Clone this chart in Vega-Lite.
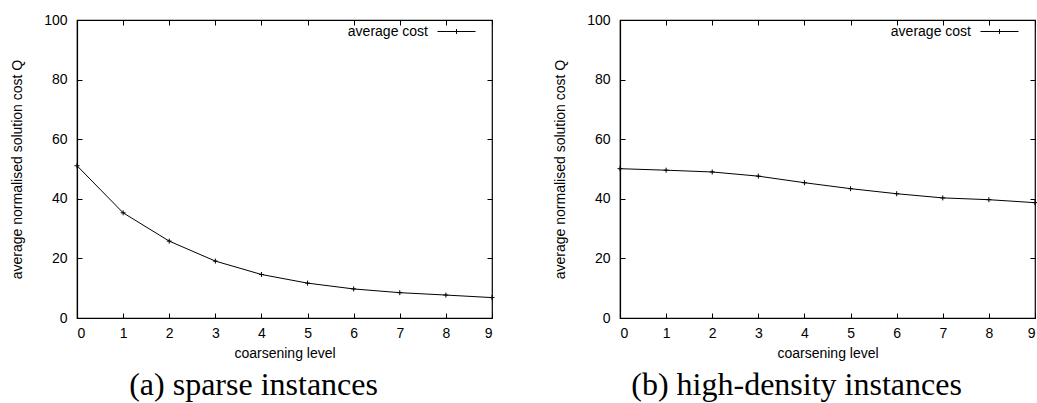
{
  "$schema": "https://vega.github.io/schema/vega-lite/v6.json",
  "padding": {"left": 10, "top": 11, "right": 0, "bottom": 0},
  "background": "white",
  "spacing": 55,
  "config": {
    "view": {"stroke": "black", "strokeWidth": 1.2},
    "axis": {
      "grid": false,
      "domainColor": "black",
      "domainWidth": 1.2,
      "tickColor": "black",
      "tickSize": -5,
      "labelFont": "Liberation Sans",
      "labelFontSize": 14,
      "labelColor": "black",
      "titleFont": "Liberation Sans",
      "titleFontSize": 14,
      "titleFontWeight": "normal",
      "titleColor": "black"
    },
    "legend": {"labelFont": "Liberation Sans", "labelFontSize": 14, "labelColor": "black"}
  },
  "resolve": {"scale": {"color": "independent"}, "legend": {"color": "independent"}},
  "hconcat": [
    {
      "width": 415,
      "height": 298,
      "title": {"text": "(a) sparse instances", "orient": "bottom", "anchor": "middle", "frame": "bounds", "font": "Liberation Serif", "fontSize": 32, "fontWeight": "normal", "color": "black", "offset": 10},
      "data": {"values": [
        {"level": 0, "cost": 51.1},
        {"level": 1, "cost": 35.3},
        {"level": 2, "cost": 25.8},
        {"level": 3, "cost": 19.1},
        {"level": 4, "cost": 14.6},
        {"level": 5, "cost": 11.7},
        {"level": 6, "cost": 9.75},
        {"level": 7, "cost": 8.5},
        {"level": 8, "cost": 7.7},
        {"level": 9, "cost": 6.85}
      ]},
      "layer": [
        {
          "mark": {"type": "line", "strokeWidth": 1},
          "encoding": {
            "x": {"field": "level", "type": "quantitative", "scale": {"domain": [0, 9], "nice": false},
                  "axis": {"orient": "bottom", "values": [0,1,2,3,4,5,6,7,8,9], "format": "d", "title": "coarsening level", "labelPadding": 13, "titlePadding": 6}},
            "y": {"field": "cost", "type": "quantitative", "scale": {"domain": [0, 100], "nice": false},
                  "axis": {"orient": "left", "values": [0,20,40,60,80,100], "title": "average normalised solution cost Q", "labelPadding": 15, "titlePadding": 19}},
            "color": {"datum": "average cost", "scale": {"range": ["black"]},
                      "legend": {"title": null, "orient": "none", "legendX": 360, "legendY": -8, "symbolType": "M-1,0H1M0,-0.13V0.13", "symbolSize": 1444, "symbolStrokeWidth": 1, "symbolStrokeColor": "black", "labelAlign": "right", "labelOffset": -48, "padding": 0}}
          }
        },
        {
          "mark": {"type": "point", "shape": "M-1,0H1M0,-1V1", "filled": false, "size": 25, "color": "black", "strokeWidth": 1, "opacity": 1},
          "encoding": {
            "x": {"field": "level", "type": "quantitative", "axis": {"orient": "top", "values": [0,1,2,3,4,5,6,7,8,9], "labels": false, "title": null, "domain": false}},
            "y": {"field": "cost", "type": "quantitative", "axis": {"orient": "right", "values": [0,20,40,60,80,100], "labels": false, "title": null, "domain": false}}
          }
        }
      ],
      "resolve": {"axis": {"x": "independent", "y": "independent"}}
    },
    {
      "width": 415,
      "height": 298,
      "title": {"text": "(b) high-density instances", "orient": "bottom", "anchor": "middle", "frame": "bounds", "font": "Liberation Serif", "fontSize": 32, "fontWeight": "normal", "color": "black", "offset": 10},
      "data": {"values": [
        {"level": 0, "cost": 50.1},
        {"level": 1, "cost": 49.6},
        {"level": 2, "cost": 49.0},
        {"level": 3, "cost": 47.6},
        {"level": 4, "cost": 45.4},
        {"level": 5, "cost": 43.4},
        {"level": 6, "cost": 41.7},
        {"level": 7, "cost": 40.3},
        {"level": 8, "cost": 39.7},
        {"level": 9, "cost": 38.7}
      ]},
      "layer": [
        {
          "mark": {"type": "line", "strokeWidth": 1},
          "encoding": {
            "x": {"field": "level", "type": "quantitative", "scale": {"domain": [0, 9], "nice": false},
                  "axis": {"orient": "bottom", "values": [0,1,2,3,4,5,6,7,8,9], "format": "d", "title": "coarsening level", "labelPadding": 13, "titlePadding": 6}},
            "y": {"field": "cost", "type": "quantitative", "scale": {"domain": [0, 100], "nice": false},
                  "axis": {"orient": "left", "values": [0,20,40,60,80,100], "title": "average normalised solution cost Q", "labelPadding": 15, "titlePadding": 19}},
            "color": {"datum": "average cost", "scale": {"range": ["black"]},
                      "legend": {"title": null, "orient": "none", "legendX": 360, "legendY": -8, "symbolType": "M-1,0H1M0,-0.13V0.13", "symbolSize": 1444, "symbolStrokeWidth": 1, "symbolStrokeColor": "black", "labelAlign": "right", "labelOffset": -48, "padding": 0}}
          }
        },
        {
          "mark": {"type": "point", "shape": "M-1,0H1M0,-1V1", "filled": false, "size": 25, "color": "black", "strokeWidth": 1, "opacity": 1},
          "encoding": {
            "x": {"field": "level", "type": "quantitative", "axis": {"orient": "top", "values": [0,1,2,3,4,5,6,7,8,9], "labels": false, "title": null, "domain": false}},
            "y": {"field": "cost", "type": "quantitative", "axis": {"orient": "right", "values": [0,20,40,60,80,100], "labels": false, "title": null, "domain": false}}
          }
        }
      ],
      "resolve": {"axis": {"x": "independent", "y": "independent"}}
    }
  ]
}
